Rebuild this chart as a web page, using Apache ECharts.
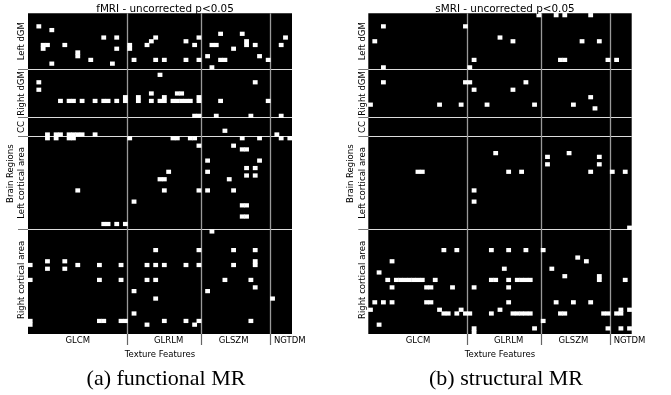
<!DOCTYPE html>
<html>
<head>
<meta charset="utf-8">
<script src="https://cdn.jsdelivr.net/npm/echarts@6/dist/echarts.min.js"></script>
<style>
html,body{margin:0;padding:0;background:#fff}
#main{width:671px;height:395px}
</style>
</head>
<body>
<div id="main"></div>
<script>
// column groups (texture features) and row groups (brain regions)
const featureGroups = ['GLCM','GLRLM','GLSZM','NGTDM'];
const featureCounts = [23,17,16,5];
const regionGroups = ['Left dGM','Right dGM','CC','Left cortical area','Right cortical area'];
const regionCounts = [15,13,5,25,28];
// column / row where each group name is printed
const featureLabelAt = [11,32,47,60];
const regionLabelAt = [7,21,30,45,71];

// significant cells [feature, region], fMRI
const fmriCells = [
  [2,3],[5,4],[44,5],[49,5],[17,6],[20,6],[29,6],[39,6],[59,6],
  [28,7],[36,7],[50,7],
  [3,8],[4,8],[8,8],[23,8],[27,8],[38,8],[42,8],[43,8],[50,8],[52,8],[58,8],
  [3,9],[20,9],[23,9],[47,9],
  [11,10],[11,11],[41,11],[53,11],
  [14,12],[24,12],[29,12],[31,12],[36,12],[39,12],[44,12],[45,12],[55,12],
  [5,13],[19,13],[42,14],
  [30,16],[2,18],[52,18],[2,20],
  [28,21],[34,21],[35,21],
  [22,22],[25,22],[31,22],[39,22],
  [7,23],[9,23],[10,23],[12,23],[15,23],[17,23],[18,23],[20,23],[22,23],[25,23],[28,23],[30,23],[31,23],
  [33,23],[34,23],[35,23],[36,23],[37,23],[39,23],[44,23],[55,23],
  [38,27],[39,27],[43,27],[51,27],[58,27],
  [45,31],
  [4,32],[6,32],[7,32],[9,32],[10,32],[11,32],[12,32],[15,32],[57,32],
  [4,33],[6,33],[9,33],[10,33],[23,33],[33,33],[34,33],[37,33],[38,33],[49,33],[53,33],[58,33],[60,33],
  [39,35],[47,35],[49,36],[50,36],
  [41,39],[53,39],[50,41],[52,41],[32,42],[41,42],[50,43],[52,43],
  [30,44],[31,44],[46,44],
  [11,47],[31,47],[39,47],[41,47],[47,47],
  [24,50],[49,51],[50,51],[49,54],[50,54],
  [17,56],[18,56],[20,56],[22,56],
  [42,58],
  [29,63],[39,63],[47,63],[52,63],
  [4,66],[8,66],[52,66],
  [0,67],[11,67],[16,67],[21,67],[27,67],[29,67],[31,67],[36,67],[39,67],[47,67],[52,67],
  [4,68],[8,68],
  [0,71],[16,71],[21,71],[27,71],[29,71],[45,71],[51,71],
  [52,73],[24,74],[41,74],[29,76],[56,76],[24,80],
  [0,82],[16,82],[17,82],[21,82],[22,82],[31,82],[36,82],[39,82],[51,82],
  [0,83],[27,83],[38,83]
];

// significant cells [feature, region], sMRI
const smriCells = [
  [39,0],[43,0],[45,0],[51,0],
  [3,3],[22,3],[30,6],
  [1,7],[33,7],[49,7],[53,7],
  [24,12],[44,12],[45,12],[55,12],[57,12],
  [3,14],[23,14],
  [3,18],[22,18],[23,18],[36,18],
  [24,20],[33,20],[51,22],
  [0,24],[16,24],[21,24],[27,24],[38,24],[47,24],[52,25],
  [29,37],[46,37],[41,38],[53,38],[41,40],[53,40],
  [11,42],[12,42],[32,42],[35,42],[51,42],[56,42],[59,42],
  [24,47],[24,50],[60,57],
  [17,63],[20,63],[28,63],[32,63],[36,63],[40,63],
  [48,65],[5,66],[50,66],[31,68],[42,68],[2,69],[45,70],[53,70],
  [4,71],[6,71],[7,71],[8,71],[9,71],[10,71],[11,71],[12,71],[15,71],[28,71],[29,71],[32,71],
  [34,71],[35,71],[36,71],[37,71],[53,71],[59,71],
  [5,73],[13,73],[14,73],[19,73],[24,73],[32,73],
  [1,77],[3,77],[5,77],[13,77],[14,77],[32,77],[43,77],[47,77],[51,77],
  [0,79],[16,79],[21,79],[30,79],[58,79],[60,79],
  [17,80],[18,80],[20,80],[22,80],[23,80],[28,80],[33,80],[34,80],[35,80],[36,80],[37,80],
  [44,80],[45,80],[54,80],[55,80],[57,80],[58,80],
  [40,82],[2,83],
  [24,84],[38,84],[55,84],[58,84],[60,84],[24,85]
];

const panelTitles = ['fMRI - uncorrected p<0.05','sMRI - uncorrected p<0.05'];
const captions = ['(a) functional MR','(b) structural MR'];

function breaks(counts){
  let out = [], s = 0;
  counts.slice(0,-1).forEach(c => { s += c; out.push(s); });
  return out;
}
const xBreaks = breaks(featureCounts);
const yBreaks = breaks(regionCounts);
const nCols = featureCounts.reduce((a,b)=>a+b,0);
const nRows = regionCounts.reduce((a,b)=>a+b,0);
const ids = n => Array.from({length:n},(_,i)=>String(i));

const font = 'DejaVu Sans';
const grids = [
  {left:28, top:13.3, width:264, height:320.7},
  {left:368.3, top:13.3, width:263.4, height:320.7}
];

// heatmap axes: one band per feature / region, carry the group names
const cellX = [0,1].map(i => ({
  type:'category', gridIndex:i, position:'bottom', data:ids(nCols),
  name:'Texture Features', nameLocation:'middle', nameGap:12.5,
  nameTextStyle:{fontFamily:font,fontSize:8.5,color:'#000',verticalAlign:'top'},
  axisLine:{show:false}, axisTick:{show:false}, splitLine:{show:false},
  axisLabel:{
    interval:(idx)=>featureLabelAt.includes(idx),
    formatter:(v,idx)=>featureGroups[featureLabelAt.indexOf(idx)],
    margin:2, fontFamily:font, fontSize:8.5, color:'#000'
  }
}));
const cellY = [0,1].map(i => ({
  type:'category', gridIndex:i, position:'left', inverse:true, data:ids(nRows),
  name:'Brain Regions', nameLocation:'middle', nameGap:13,
  nameTextStyle:{fontFamily:font,fontSize:8.5,color:'#000'},
  axisLine:{show:false}, axisTick:{show:false}, splitLine:{show:false},
  axisLabel:{
    interval:(idx)=>regionLabelAt.includes(idx),
    formatter:(v,idx)=>regionGroups[regionLabelAt.indexOf(idx)],
    rotate:90, margin:1.5, fontFamily:font, fontSize:8.5, color:'#000'
  }
}));
// edge axes: one tick per band edge, used for the group separators
const edgeX = [0,1].map(i => ({
  type:'category', gridIndex:i, position:'bottom', boundaryGap:false, data:ids(nCols+1),
  axisLine:{show:false}, axisLabel:{show:false},
  axisTick:{show:true,length:11,interval:(idx)=>xBreaks.includes(idx),lineStyle:{color:'#666',width:1.2}},
  splitLine:{show:true,interval:(idx)=>xBreaks.includes(idx),lineStyle:{color:'#9a9a9a',width:1.3}}
}));
const edgeY = [0,1].map(i => ({
  type:'category', gridIndex:i, position:'left', inverse:true, boundaryGap:false, data:ids(nRows+1),
  axisLine:{show:false}, axisLabel:{show:false},
  axisTick:{show:true,length:10,interval:(idx)=>yBreaks.includes(idx),lineStyle:{color:'#777',width:1}},
  splitLine:{show:true,interval:(idx)=>yBreaks.includes(idx),lineStyle:{color:'#dcdcdc',width:1.2}}
}));

let myChart = echarts.init(document.getElementById('main'));

myChart.setOption({
  animation:false,
  backgroundColor:'#fff',
  title:[0,1].map(i => ({
    text:panelTitles[i],
    left:grids[i].left + grids[i].width/2,
    top:-1,
    textAlign:'center',
    textStyle:{fontFamily:font,fontSize:10.4,fontWeight:'normal',color:'#000'}
  })).concat([0,1].map(i => ({
    text:captions[i],
    left:grids[i].left + grids[i].width/2 + 1,
    top:363,
    textAlign:'center',
    textStyle:{fontFamily:'Liberation Serif',fontSize:22,fontWeight:'normal',color:'#000'}
  }))),
  grid:grids.map(g => Object.assign({show:true,backgroundColor:'#000',borderWidth:0}, g)),
  visualMap:{show:false,min:0,max:1,seriesIndex:[0,1],inRange:{color:['#fff','#fff']}},
  xAxis:cellX.concat(edgeX),
  yAxis:cellY.concat(edgeY),
  series:[fmriCells,smriCells].map((cells,i) => ({
    type:'heatmap',
    xAxisIndex:i,
    yAxisIndex:i,
    data:cells.map(c => [c[0],c[1],1]),
    itemStyle:{borderWidth:0},
    emphasis:{disabled:true}
  }))
});
</script>
</body>
</html>
